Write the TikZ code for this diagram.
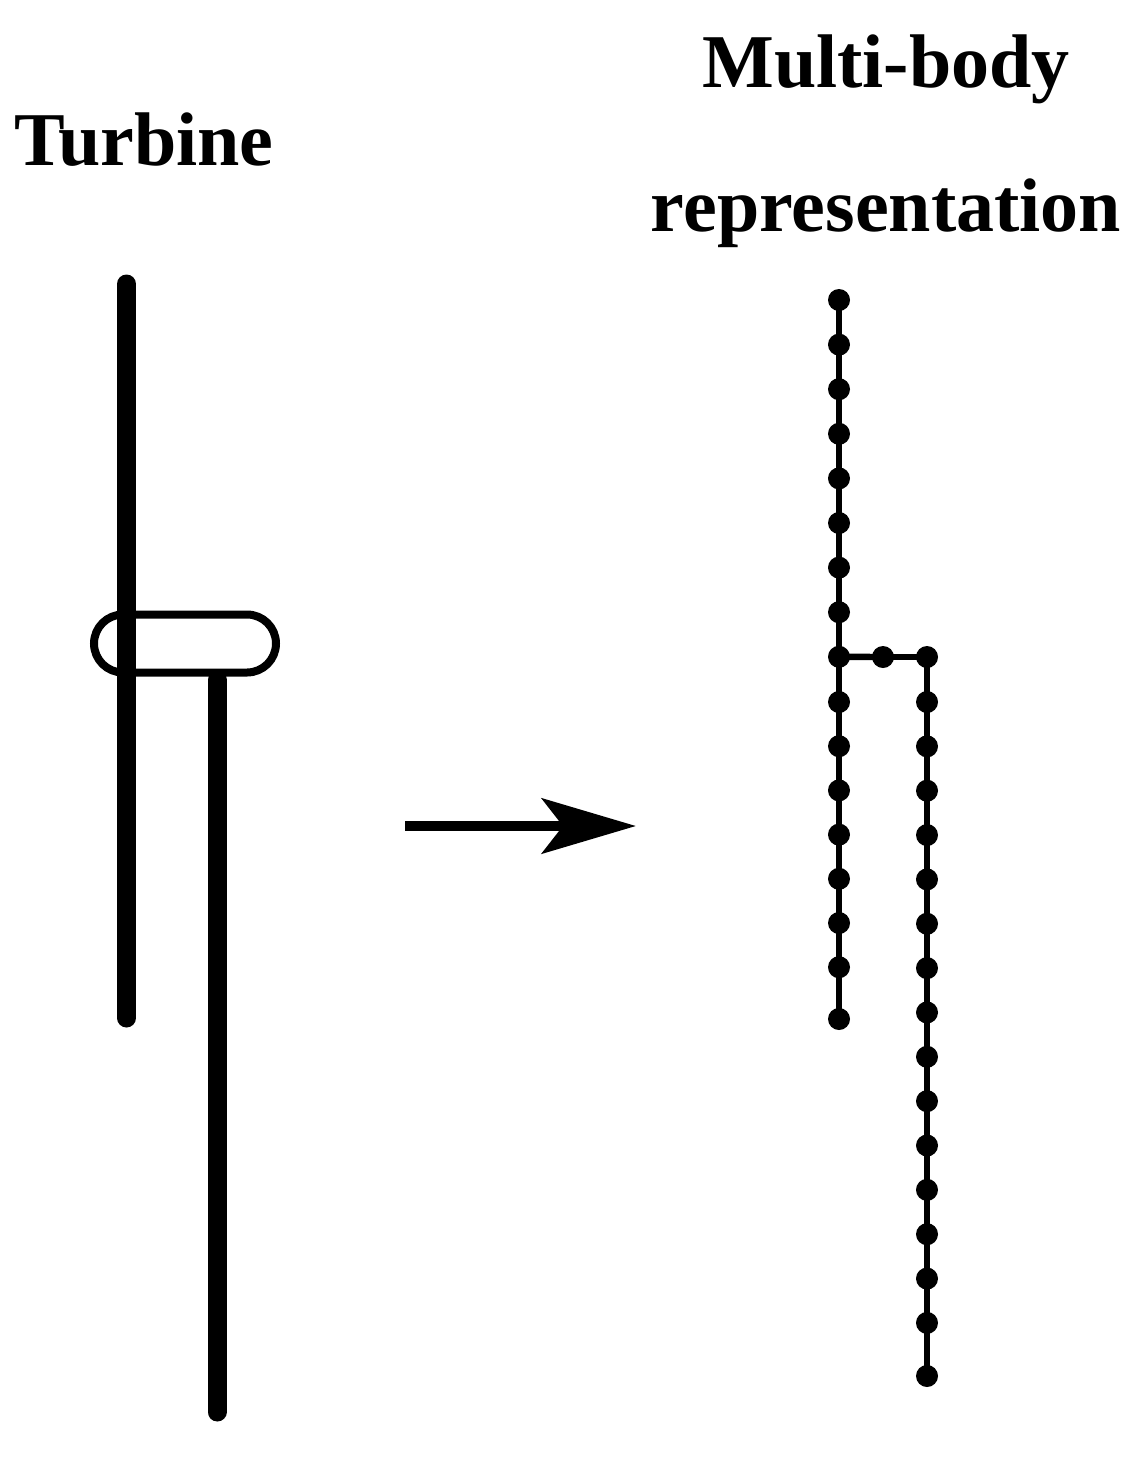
\documentclass[tikz,border=0pt]{standalone}
\usepackage{fontspec}
\setmainfont{Liberation Serif}
\usepackage{tikz}
\usetikzlibrary{arrows.meta, positioning, calc}
\tikzset{
  title_text/.style={font=\fontsize{38}{40}\selectfont\bfseries, inner sep=0pt, anchor=base},
  blade/.style={line width=9.5pt, line cap=round, black},
  tower/.style={line width=9.5pt, line cap=round, black},
  hub/.style={line width=4pt, draw=black, rounded corners=14.5pt},
  body/.style={circle, fill=black, inner sep=0pt, minimum size=11pt},
  link/.style={-, line width=3.2pt, black},
  arrow/.style={-{Stealth[length=47pt, width=27.5pt, inset=10.5pt]}, line width=5.3pt, black}
}
\begin{document}
\begin{tikzpicture}[x=0.5pt, y=-0.5pt]
\useasboundingbox (0,0) rectangle (1139,1462);

% Titles
\node (turbine) [title_text] at (144,165) {Turbine};
\node (multi) [title_text] at (886,87) {Multi-body};
\node (repr) [title_text] at (886,231) {representation};

% Turbine
\coordinate (blade_top) at (126.5,284);
\coordinate (blade_end) at (126.5,1018);
\coordinate (tower_top) at (217,680);
\coordinate (tower_end) at (217,1412);
\draw [blade] (blade_top) -- (blade_end);
\draw [tower] (tower_top) -- (tower_end);
\node (hub_box) [hub, minimum width=91pt, minimum height=29pt, inner sep=0pt] at (185,643.5) {};

% Arrow
\coordinate (arrow_start) at (405,826);
\coordinate (arrow_end) at (636,826);
\draw [arrow] (arrow_start) -- (arrow_end);

% Main chain
\foreach \i in {0,...,8} {
    \node (a\i) [body] at (839,{300+44.6*\i}) {};
}
\foreach \i in {9,...,15} {
    \node (a\i) [body] at (839,{702+44.2*(\i-9)}) {};
}
\node (a16) [body] at (839,1019) {};
\foreach \i [remember=\i as \j (initially 0)] in {1,...,16} {
    \draw [link] (a\j.center) -- (a\i.center);
}

% Side chain
\node (s0) [body] at (883,657) {};
\node (b0) [body] at (927,657) {};
\foreach \i in {1,...,15} {
    \node (b\i) [body] at (927,{702+44.35*(\i-1)}) {};
}
\node (b16) [body] at (927,1376) {};
\foreach \i [remember=\i as \j (initially 0)] in {1,...,16} {
    \draw [link] (b\j.center) -- (b\i.center);
}
\draw [link] (a8.center) -- (s0.center);
\draw [link] (s0.center) -- (b0.center);
\end{tikzpicture}
\end{document}
